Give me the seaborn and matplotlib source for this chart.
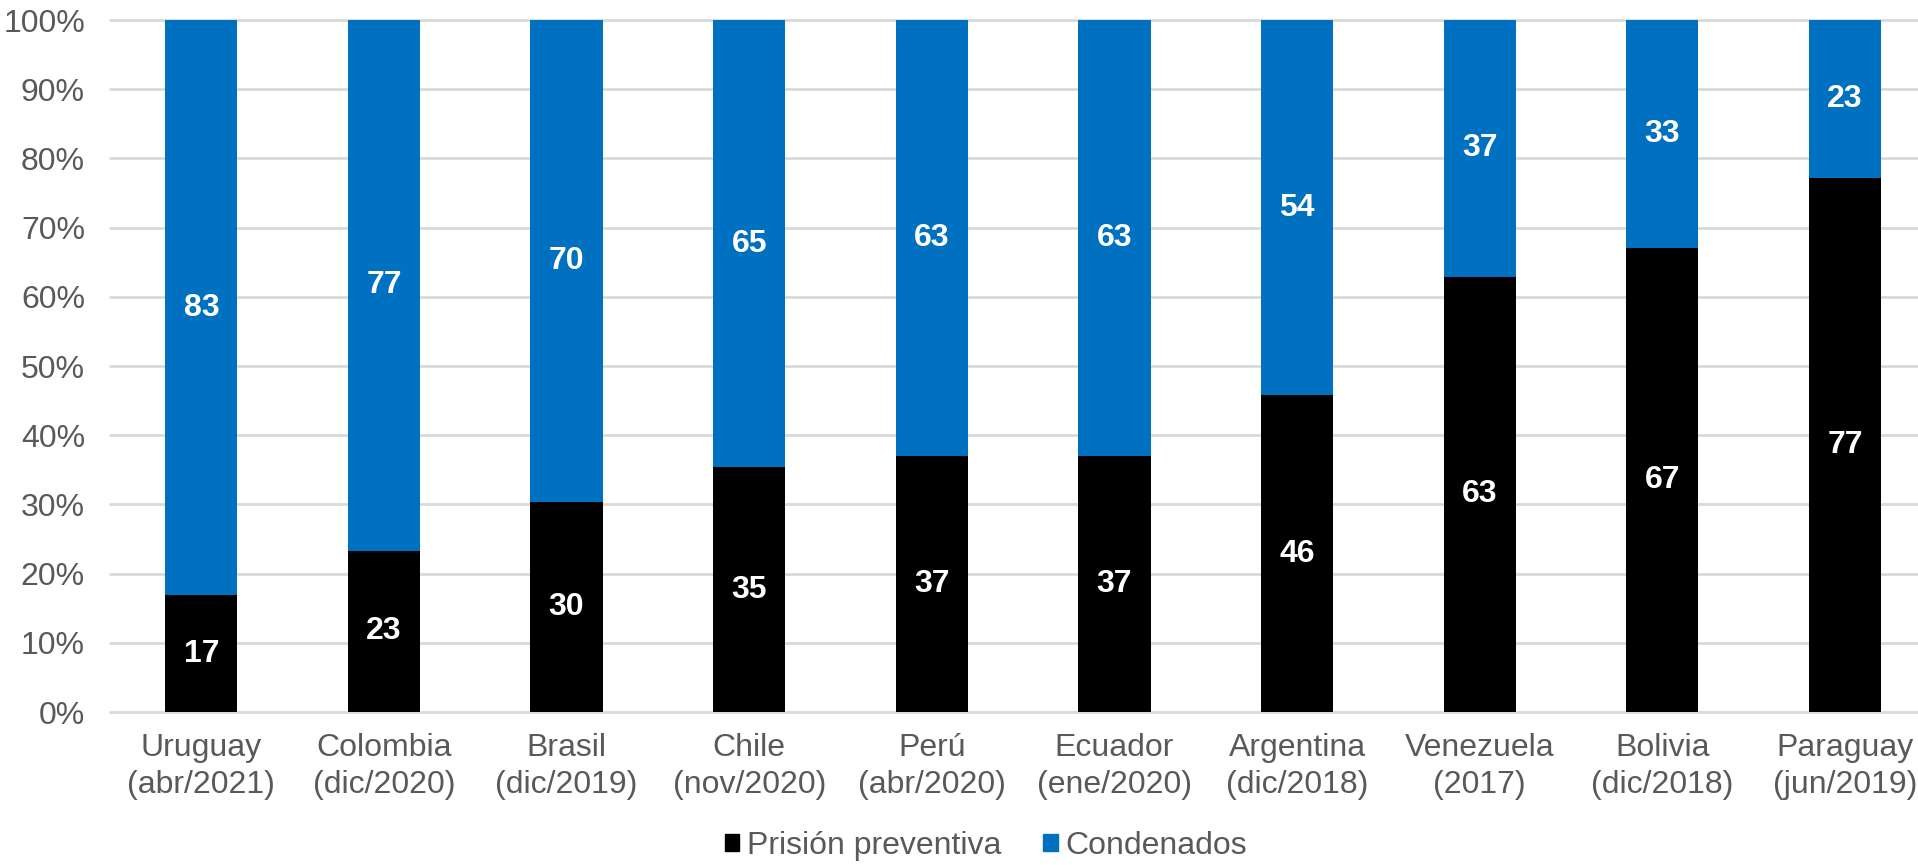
import numpy as np
import pandas as pd
import matplotlib
matplotlib.use("Agg")
import matplotlib.pyplot as plt
import matplotlib.patches as mpatches
import seaborn as sns

paises = ["Uruguay\n(abr/2021)", "Colombia\n(dic/2020)", "Brasil\n(dic/2019)", "Chile\n(nov/2020)",
          "Perú\n(abr/2020)", "Ecuador\n(ene/2020)", "Argentina\n(dic/2018)", "Venezuela\n(2017)",
          "Bolivia\n(dic/2018)", "Paraguay\n(jun/2019)"]
prision_preventiva = [16.9, 23.3, 30.4, 35.4, 37.0, 37.0, 45.8, 62.9, 67.1, 77.2]
condenados = [83.1, 76.7, 69.6, 64.6, 63.0, 63.0, 54.2, 37.1, 32.9, 22.8]
yticks = [0, 10, 20, 30, 40, 50, 60, 70, 80, 90, 100]

AZUL = "#0070C0"
GRIS = "#595959"

sns.set_theme(style="white")
plt.rcParams["font.family"] = ["Liberation Sans", "DejaVu Sans"]

df = pd.DataFrame({"pais": paises, "pp": prision_preventiva, "cond": condenados})
df["total"] = df["pp"] + df["cond"]

fig = plt.figure(figsize=(19.18, 8.65), dpi=100)
ax = fig.add_axes([110 / 1918, 1 - 712 / 865, 1808 / 1918, 692 / 865])

ax.set_axisbelow(True)
sns.barplot(data=df, x="pais", y="total", color=AZUL, saturation=1, width=0.396, ax=ax, linewidth=0)
sns.barplot(data=df, x="pais", y="pp", color="black", saturation=1, width=0.396, ax=ax, linewidth=0)

# etiquetas dentro de cada segmento
for i, (p, c) in enumerate(zip(prision_preventiva, condenados)):
    ax.text(i, p / 2, f"{p:.0f}", ha="center", va="center", color="white",
            fontsize=23, fontweight="bold")
    ax.text(i, p + c / 2, f"{c:.0f}", ha="center", va="center", color="white",
            fontsize=23, fontweight="bold")

ax.set_xlim(-0.5, 9.4)
ax.set_ylim(0, 100)
ax.set_yticks(yticks)
ax.set_yticklabels([f"{t}%" for t in yticks])
ax.yaxis.grid(True, color="#D9D9D9", linewidth=2)
for gl in ax.get_ygridlines():
    gl.set_clip_on(False)
ax.xaxis.grid(False)
for s in ax.spines.values():
    s.set_visible(False)
ax.tick_params(axis="y", length=0, pad=18, labelsize=23, labelcolor=GRIS)
ax.tick_params(axis="x", length=0, pad=15, labelsize=23, labelcolor=GRIS)
for lbl in ax.get_xticklabels():
    lbl.set_linespacing(1.3)
ax.set_xlabel("")
ax.set_ylabel("")

handles = [mpatches.Patch(color="black"), mpatches.Patch(color=AZUL)]
fig.legend(handles, ["Prisión preventiva", "Condenados"], loc="center",
           bbox_to_anchor=(986 / 1918, 1 - 846 / 865), ncol=2, frameon=False,
           fontsize=23, labelcolor=GRIS, handlelength=0.45, handleheight=0.45,
           handletextpad=0.25, columnspacing=1.3)

fig.savefig("out.png", dpi=100)
